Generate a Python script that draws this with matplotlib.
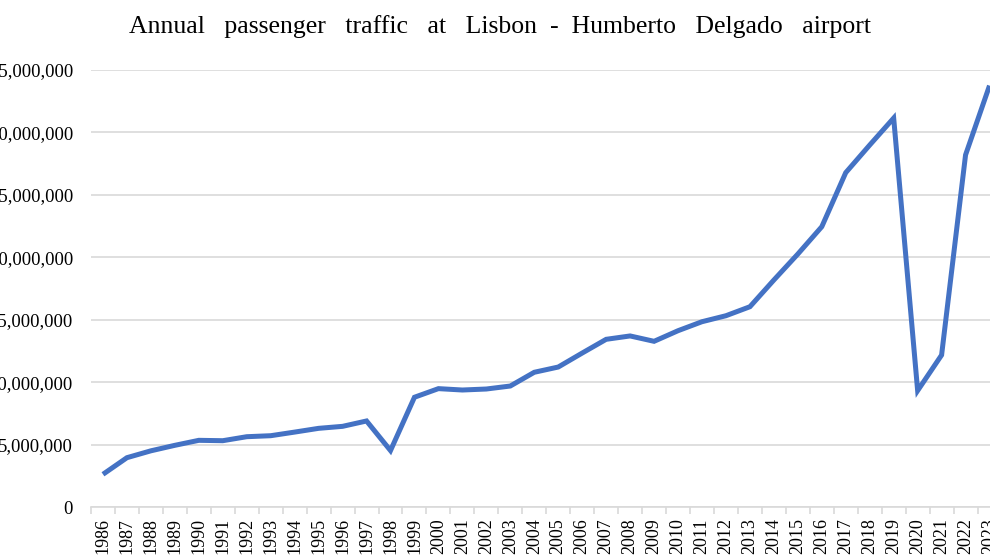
import numpy as np
import matplotlib.pyplot as plt
from matplotlib.ticker import FuncFormatter, MultipleLocator

"""
Annual passenger traffic at Lisbon airport, values read off the reference chart
"""
years = list(range(1986, 2024))
passengers = [
    2620000, 3950000, 4500000, 4940000, 5340000, 5310000, 5630000, 5710000,
    6000000, 6300000, 6460000, 6890000, 4520000, 8790000, 9480000, 9370000,
    9450000, 9690000, 10790000, 11210000, 12330000, 13430000, 13700000, 13270000,
    14120000, 14840000, 15320000, 16040000, 18180000, 20260000, 22450000, 26780000,
    28990000, 31150000, 9320000, 12170000, 28200000, 33750000,
]
title_left = ['Annual', 'passenger', 'traffic', 'at', 'Lisbon']
title_right = ['Humberto', 'Delgado', 'airport']

serif = ['Liberation Serif', 'DejaVu Serif']
line_color = '#4472C4'
grid_color = '#D9D9D9'

fig = plt.figure(figsize=(9.9, 5.57), dpi=100)
W, H = 990, 557

# plot area runs past the right edge of the picture, like the cropped reference
left, right, top, bottom = 91, 1001.5, 70, 507
ax = fig.add_axes([left / W, 1 - bottom / H, (right - left) / W, (bottom - top) / H])

x = np.arange(len(years))
ax.plot(x, passengers, color=line_color, lw=3.6, solid_joinstyle='miter',
        solid_capstyle='butt', zorder=3)

ax.set_xlim(-0.5, len(years) - 0.5)
ax.set_ylim(0, 35000000)
ax.yaxis.set_major_locator(MultipleLocator(5000000))
ax.yaxis.set_major_formatter(FuncFormatter(lambda v, p: f'{int(v):,}'))
ax.grid(axis='y', color=grid_color, lw=1.2, zorder=0)
ax.set_axisbelow(True)

# category labels at centres, tick marks at the boundaries
ax.set_xticks(x)
ax.set_xticklabels([str(y) for y in years], rotation=90, fontfamily=serif, fontsize=13)
ax.set_xticks(np.arange(len(years) + 1) - 0.5, minor=True)
ax.tick_params(axis='x', which='major', length=0, pad=8, colors='black')
ax.tick_params(axis='x', which='minor', length=5, width=1.2, color=grid_color)
ax.tick_params(axis='y', length=0, pad=13, labelsize=13.5)
for lab in ax.get_yticklabels():
    lab.set_fontfamily(serif)

for s in ['top', 'left', 'right']:
    ax.spines[s].set_visible(False)
ax.spines['bottom'].set_color(grid_color)
ax.spines['bottom'].set_linewidth(1.2)

# the reference title has wide gaps between words
title = '   '.join(title_left) + '  -  ' + '   '.join(title_right)
fig.text(500 / W, 1 - 33 / H, title, ha='center', va='baseline',
         fontfamily=serif, fontsize=18.5)

fig.savefig('out.png', dpi=100)
